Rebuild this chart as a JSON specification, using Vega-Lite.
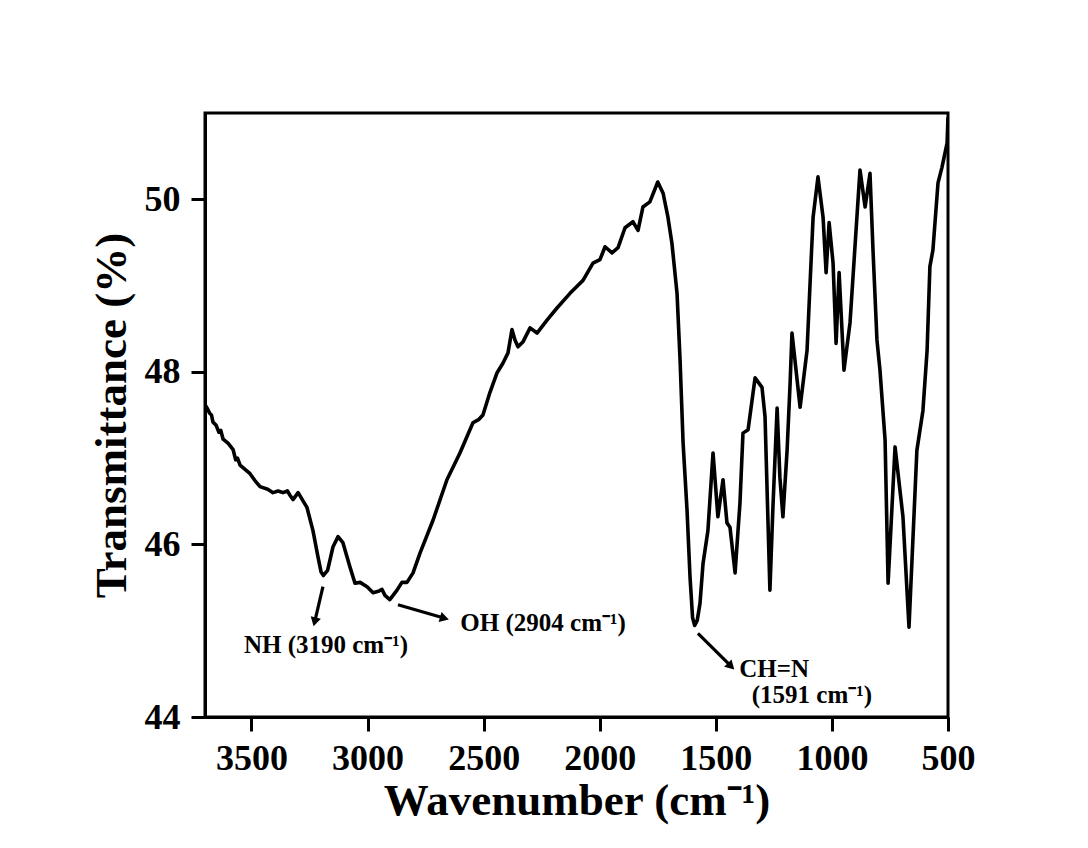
{
  "$schema": "https://vega.github.io/schema/vega-lite/v6.json",
  "width": 743,
  "height": 604,
  "autosize": {"type": "none"},
  "padding": {"left": 205, "top": 113, "right": 140, "bottom": 131},
  "background": "white",
  "config": {
    "font": "Liberation Serif",
    "view": {"stroke": "black", "strokeWidth": 3},
    "axis": {
      "grid": false,
      "domainColor": "black",
      "domainWidth": 3,
      "tickColor": "black",
      "tickWidth": 3,
      "tickSize": 14,
      "labelFont": "Liberation Serif",
      "labelFontWeight": "bold",
      "labelFontSize": 36,
      "labelColor": "black",
      "titleFont": "Liberation Serif",
      "titleFontWeight": "bold",
      "titleFontSize": 45,
      "titleColor": "black"
    }
  },
  "datasets": {
    "spectrum": [
      {"wavenumber": 3700, "transmittance": 47.62},
      {"wavenumber": 3691, "transmittance": 47.58},
      {"wavenumber": 3680, "transmittance": 47.52},
      {"wavenumber": 3672, "transmittance": 47.5},
      {"wavenumber": 3666, "transmittance": 47.42},
      {"wavenumber": 3652, "transmittance": 47.38},
      {"wavenumber": 3640, "transmittance": 47.3},
      {"wavenumber": 3632, "transmittance": 47.32},
      {"wavenumber": 3622, "transmittance": 47.22},
      {"wavenumber": 3600, "transmittance": 47.17},
      {"wavenumber": 3579, "transmittance": 47.1},
      {"wavenumber": 3568, "transmittance": 46.98},
      {"wavenumber": 3560, "transmittance": 47.0},
      {"wavenumber": 3549, "transmittance": 46.92},
      {"wavenumber": 3506, "transmittance": 46.82},
      {"wavenumber": 3485, "transmittance": 46.74},
      {"wavenumber": 3463, "transmittance": 46.67},
      {"wavenumber": 3430, "transmittance": 46.64},
      {"wavenumber": 3407, "transmittance": 46.6},
      {"wavenumber": 3385, "transmittance": 46.62},
      {"wavenumber": 3364, "transmittance": 46.6},
      {"wavenumber": 3345, "transmittance": 46.62},
      {"wavenumber": 3334, "transmittance": 46.57},
      {"wavenumber": 3321, "transmittance": 46.52},
      {"wavenumber": 3299, "transmittance": 46.6},
      {"wavenumber": 3261, "transmittance": 46.43},
      {"wavenumber": 3235, "transmittance": 46.16},
      {"wavenumber": 3213, "transmittance": 45.85},
      {"wavenumber": 3200, "transmittance": 45.68},
      {"wavenumber": 3190, "transmittance": 45.64},
      {"wavenumber": 3172, "transmittance": 45.7},
      {"wavenumber": 3149, "transmittance": 45.97},
      {"wavenumber": 3127, "transmittance": 46.09},
      {"wavenumber": 3106, "transmittance": 46.02},
      {"wavenumber": 3076, "transmittance": 45.74},
      {"wavenumber": 3054, "transmittance": 45.55},
      {"wavenumber": 3032, "transmittance": 45.56},
      {"wavenumber": 3002, "transmittance": 45.51},
      {"wavenumber": 2976, "transmittance": 45.44},
      {"wavenumber": 2950, "transmittance": 45.46},
      {"wavenumber": 2938, "transmittance": 45.48},
      {"wavenumber": 2925, "transmittance": 45.41},
      {"wavenumber": 2904, "transmittance": 45.36},
      {"wavenumber": 2873, "transmittance": 45.47},
      {"wavenumber": 2852, "transmittance": 45.56},
      {"wavenumber": 2830, "transmittance": 45.56},
      {"wavenumber": 2804, "transmittance": 45.67},
      {"wavenumber": 2774, "transmittance": 45.9},
      {"wavenumber": 2718, "transmittance": 46.28},
      {"wavenumber": 2658, "transmittance": 46.75},
      {"wavenumber": 2602, "transmittance": 47.06},
      {"wavenumber": 2546, "transmittance": 47.41},
      {"wavenumber": 2520, "transmittance": 47.45},
      {"wavenumber": 2503, "transmittance": 47.5},
      {"wavenumber": 2473, "transmittance": 47.76},
      {"wavenumber": 2442, "transmittance": 47.99},
      {"wavenumber": 2417, "transmittance": 48.1},
      {"wavenumber": 2395, "transmittance": 48.22},
      {"wavenumber": 2378, "transmittance": 48.49},
      {"wavenumber": 2365, "transmittance": 48.37},
      {"wavenumber": 2352, "transmittance": 48.29},
      {"wavenumber": 2330, "transmittance": 48.35},
      {"wavenumber": 2300, "transmittance": 48.51},
      {"wavenumber": 2270, "transmittance": 48.45},
      {"wavenumber": 2227, "transmittance": 48.6},
      {"wavenumber": 2184, "transmittance": 48.74},
      {"wavenumber": 2128, "transmittance": 48.91},
      {"wavenumber": 2072, "transmittance": 49.06},
      {"wavenumber": 2029, "transmittance": 49.26},
      {"wavenumber": 1999, "transmittance": 49.3},
      {"wavenumber": 1977, "transmittance": 49.45},
      {"wavenumber": 1947, "transmittance": 49.38},
      {"wavenumber": 1921, "transmittance": 49.44},
      {"wavenumber": 1891, "transmittance": 49.67},
      {"wavenumber": 1857, "transmittance": 49.74},
      {"wavenumber": 1835, "transmittance": 49.64},
      {"wavenumber": 1814, "transmittance": 49.91},
      {"wavenumber": 1784, "transmittance": 49.97},
      {"wavenumber": 1750, "transmittance": 50.2},
      {"wavenumber": 1727, "transmittance": 50.07},
      {"wavenumber": 1706, "transmittance": 49.79},
      {"wavenumber": 1689, "transmittance": 49.49},
      {"wavenumber": 1667, "transmittance": 48.91},
      {"wavenumber": 1654, "transmittance": 48.14},
      {"wavenumber": 1641, "transmittance": 47.18},
      {"wavenumber": 1624, "transmittance": 46.4},
      {"wavenumber": 1611, "transmittance": 45.62},
      {"wavenumber": 1600, "transmittance": 45.15},
      {"wavenumber": 1591, "transmittance": 45.06},
      {"wavenumber": 1580, "transmittance": 45.12},
      {"wavenumber": 1568, "transmittance": 45.32},
      {"wavenumber": 1555, "transmittance": 45.78},
      {"wavenumber": 1534, "transmittance": 46.16},
      {"wavenumber": 1512, "transmittance": 47.06},
      {"wavenumber": 1491, "transmittance": 46.32},
      {"wavenumber": 1469, "transmittance": 46.75},
      {"wavenumber": 1452, "transmittance": 46.25},
      {"wavenumber": 1439, "transmittance": 46.2},
      {"wavenumber": 1417, "transmittance": 45.67},
      {"wavenumber": 1396, "transmittance": 46.48},
      {"wavenumber": 1383, "transmittance": 47.29},
      {"wavenumber": 1361, "transmittance": 47.33},
      {"wavenumber": 1331, "transmittance": 47.93},
      {"wavenumber": 1301, "transmittance": 47.82},
      {"wavenumber": 1288, "transmittance": 47.48},
      {"wavenumber": 1267, "transmittance": 45.47},
      {"wavenumber": 1254, "transmittance": 46.43},
      {"wavenumber": 1236, "transmittance": 47.58},
      {"wavenumber": 1224, "transmittance": 46.78},
      {"wavenumber": 1211, "transmittance": 46.32},
      {"wavenumber": 1193, "transmittance": 47.09},
      {"wavenumber": 1180, "transmittance": 47.87},
      {"wavenumber": 1172, "transmittance": 48.45},
      {"wavenumber": 1137, "transmittance": 47.59},
      {"wavenumber": 1107, "transmittance": 48.25},
      {"wavenumber": 1094, "transmittance": 49.03},
      {"wavenumber": 1081, "transmittance": 49.79},
      {"wavenumber": 1060, "transmittance": 50.26},
      {"wavenumber": 1038, "transmittance": 49.79},
      {"wavenumber": 1025, "transmittance": 49.15},
      {"wavenumber": 1012, "transmittance": 49.73},
      {"wavenumber": 995, "transmittance": 49.26},
      {"wavenumber": 982, "transmittance": 48.33},
      {"wavenumber": 969, "transmittance": 49.15},
      {"wavenumber": 948, "transmittance": 48.02},
      {"wavenumber": 922, "transmittance": 48.57},
      {"wavenumber": 879, "transmittance": 50.34},
      {"wavenumber": 857, "transmittance": 49.91},
      {"wavenumber": 836, "transmittance": 50.3},
      {"wavenumber": 823, "transmittance": 49.41},
      {"wavenumber": 806, "transmittance": 48.37},
      {"wavenumber": 793, "transmittance": 48.02},
      {"wavenumber": 771, "transmittance": 47.21},
      {"wavenumber": 758, "transmittance": 45.55},
      {"wavenumber": 728, "transmittance": 47.13},
      {"wavenumber": 694, "transmittance": 46.32},
      {"wavenumber": 668, "transmittance": 45.04},
      {"wavenumber": 634, "transmittance": 47.09},
      {"wavenumber": 608, "transmittance": 47.55},
      {"wavenumber": 590, "transmittance": 48.25},
      {"wavenumber": 578, "transmittance": 49.22},
      {"wavenumber": 565, "transmittance": 49.41},
      {"wavenumber": 543, "transmittance": 50.19},
      {"wavenumber": 526, "transmittance": 50.37},
      {"wavenumber": 504, "transmittance": 50.65},
      {"wavenumber": 500, "transmittance": 50.95}
    ],
    "notes": [
      {"text": "NH (3190 cm⁻¹)", "wavenumber": 3179, "transmittance": 44.83},
      {"text": "OH (2904 cm⁻¹)", "wavenumber": 2244, "transmittance": 45.09},
      {"text": "CH=N", "wavenumber": 1249, "transmittance": 44.56},
      {"text": "(1591 cm⁻¹)", "wavenumber": 1086, "transmittance": 44.25}
    ],
    "arrows": [
      {"band": "NH", "x": 3192, "y": 45.51, "x2": 3226, "y2": 45.12},
      {"band": "OH", "x": 2869, "y": 45.3, "x2": 2675, "y2": 45.15},
      {"band": "CH=N", "x": 1577, "y": 44.97, "x2": 1439, "y2": 44.6}
    ]
  },
  "layer": [
    {
      "data": {"name": "spectrum"},
      "mark": {"type": "line", "color": "black", "strokeWidth": 3.6, "strokeJoin": "round", "clip": true},
      "encoding": {
        "x": {
          "field": "wavenumber",
          "type": "quantitative",
          "scale": {"domain": [500, 3700], "reverse": true, "nice": false, "zero": false},
          "axis": {"values": [3500, 3000, 2500, 2000, 1500, 1000, 500], "format": "d", "title": "Wavenumber (cm⁻¹)", "labelPadding": 10, "titlePadding": 2, "labelFlush": false}
        },
        "y": {
          "field": "transmittance",
          "type": "quantitative",
          "scale": {"domain": [44, 51], "nice": false, "zero": false},
          "axis": {"values": [44, 46, 48, 50], "format": "d", "title": "Transmittance (%)", "labelPadding": 11, "titlePadding": 10, "labelFlush": false}
        }
      }
    },
    {
      "data": {"name": "arrows"},
      "mark": {"type": "rule", "color": "black", "strokeWidth": 3.2},
      "encoding": {
        "x": {"field": "x", "type": "quantitative"},
        "y": {"field": "y", "type": "quantitative"},
        "x2": {"field": "x2"},
        "y2": {"field": "y2"}
      }
    },
    {
      "data": {"name": "arrows"},
      "transform": [{"filter": "datum.band === 'NH'"}],
      "mark": {"type": "point", "shape": "triangle", "filled": true, "color": "black", "opacity": 1, "size": 110, "angle": 194},
      "encoding": {
        "x": {"field": "x2", "type": "quantitative"},
        "y": {"field": "y2", "type": "quantitative"}
      }
    },
    {
      "data": {"name": "arrows"},
      "transform": [{"filter": "datum.band === 'OH'"}],
      "mark": {"type": "point", "shape": "triangle", "filled": true, "color": "black", "opacity": 1, "size": 110, "angle": 106},
      "encoding": {
        "x": {"field": "x2", "type": "quantitative"},
        "y": {"field": "y2", "type": "quantitative"}
      }
    },
    {
      "data": {"name": "arrows"},
      "transform": [{"filter": "datum.band === 'CH=N'"}],
      "mark": {"type": "point", "shape": "triangle", "filled": true, "color": "black", "opacity": 1, "size": 110, "angle": 135},
      "encoding": {
        "x": {"field": "x2", "type": "quantitative"},
        "y": {"field": "y2", "type": "quantitative"}
      }
    },
    {
      "data": {"name": "notes"},
      "mark": {"type": "text", "font": "Liberation Serif", "fontWeight": "bold", "fontSize": 25, "color": "black", "align": "center", "baseline": "middle"},
      "encoding": {
        "x": {"field": "wavenumber", "type": "quantitative"},
        "y": {"field": "transmittance", "type": "quantitative"},
        "text": {"field": "text"}
      }
    }
  ]
}
